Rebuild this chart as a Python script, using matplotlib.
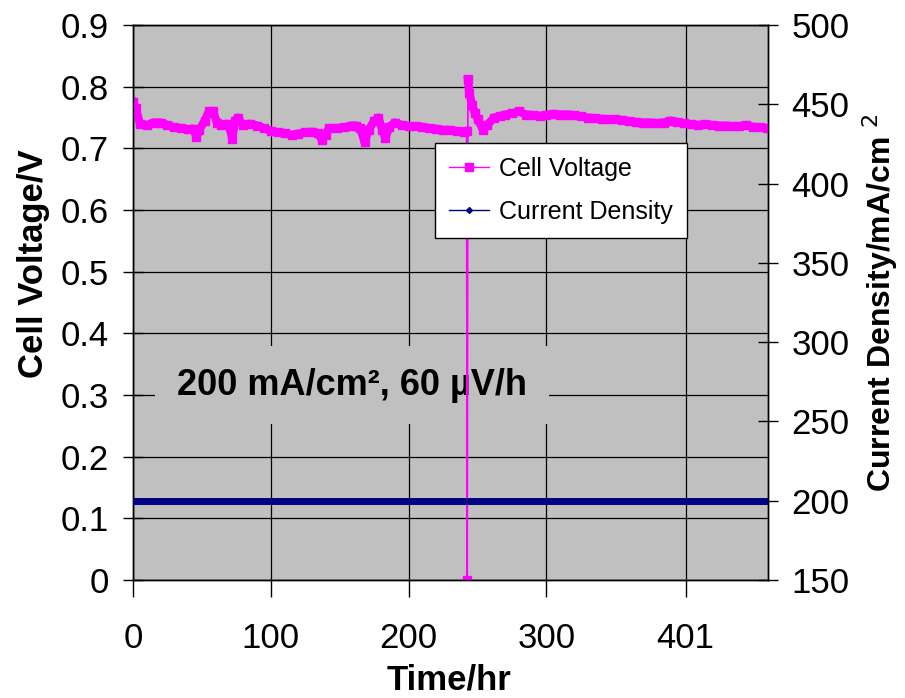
import matplotlib
matplotlib.use("Agg")
from matplotlib import pyplot as plt
from matplotlib.lines import Line2D

# cell voltage (time in hr, volts)
time_hr = [0, 2, 5, 10, 15, 20, 25, 30, 35, 40, 44, 46, 48, 52, 55, 58, 61, 64,
           68, 70, 72, 74, 76, 80, 85, 90, 95, 100, 105, 110, 115, 120, 125, 130,
           134, 137, 140, 142, 148, 153, 158, 162, 165, 168, 171, 175, 178, 181,
           183, 186, 190, 195, 200, 205, 210, 215, 220, 225, 230, 235, 240, 242,
           242.5, 243, 244, 246, 248, 250, 254, 257, 262, 266, 270, 275, 280, 285,
           290, 295, 300, 305, 310, 315, 320, 325, 330, 335, 340, 345, 350, 355,
           360, 365, 370, 375, 380, 385, 390, 395, 400, 405, 410, 415, 420, 425,
           430, 435, 440, 445, 450, 455, 460]
cell_voltage = [0.775, 0.765, 0.740, 0.738, 0.742, 0.742, 0.738, 0.734, 0.733,
                0.731, 0.732, 0.718, 0.730, 0.745, 0.760, 0.760, 0.742, 0.738,
                0.740, 0.735, 0.716, 0.745, 0.750, 0.738, 0.740, 0.737, 0.733,
                0.728, 0.726, 0.725, 0.722, 0.724, 0.726, 0.727, 0.725, 0.714,
                0.722, 0.733, 0.733, 0.734, 0.737, 0.737, 0.733, 0.710, 0.730,
                0.745, 0.750, 0.730, 0.717, 0.735, 0.742, 0.738, 0.736, 0.736,
                0.735, 0.733, 0.732, 0.730, 0.730, 0.728, 0.727, 0.728,
                0.0, 0.812, 0.790, 0.770, 0.758, 0.748, 0.730, 0.738, 0.750,
                0.752, 0.755, 0.757, 0.760, 0.755, 0.754, 0.753, 0.754, 0.756,
                0.755, 0.755, 0.754, 0.752, 0.750, 0.749, 0.748, 0.747, 0.747,
                0.746, 0.744, 0.743, 0.742, 0.742, 0.741, 0.742, 0.745, 0.743,
                0.741, 0.739, 0.738, 0.739, 0.738, 0.737, 0.737, 0.736, 0.736,
                0.738, 0.735, 0.734, 0.733]
drop = 62  # index of the 0 V point (interruption)

# current density held at 200 mA/cm2
cd_time = [0, 50, 100, 150, 200, 250, 300, 350, 400, 461]
current_density = [200, 200, 200, 200, 200, 200, 200, 200, 200, 200]

x_ticks = [0, 100, 200, 300, 401]
x_labels = ["0", "100", "200", "300", "401"]

font = ["Liberation Sans", "DejaVu Sans"]
mag = "#ff00ff"
navy = "#000080"

fig = plt.figure(figsize=(9.05, 6.98), dpi=100)
ax = fig.add_axes([0.147, 0.169, 0.702, 0.795])
ax.set_facecolor("#c0c0c0")

ax.plot(time_hr[:drop], cell_voltage[:drop], color=mag, lw=6, marker="s",
        ms=6, solid_joinstyle="round", zorder=3)
ax.plot(time_hr[drop - 1:drop + 2], cell_voltage[drop - 1:drop + 2], color=mag,
        lw=1.2, zorder=3)
ax.plot(time_hr[drop:drop + 1], cell_voltage[drop:drop + 1], color=mag,
        ls="none", marker="s", ms=6, zorder=3)
ax.plot(time_hr[drop + 1:], cell_voltage[drop + 1:], color=mag, lw=6,
        marker="s", ms=6, solid_joinstyle="round", zorder=3)

ax.set_xlim(0, 461)
ax.set_ylim(0, 0.9)
ax.set_xticks(x_ticks)
ax.set_xticklabels(x_labels)
ax.set_yticks([0, 0.1, 0.2, 0.3, 0.4, 0.5, 0.6, 0.7, 0.8, 0.9])
ax.set_yticklabels(["0", "0.1", "0.2", "0.3", "0.4", "0.5", "0.6", "0.7", "0.8", "0.9"])
ax.grid(True, color="black", lw=0.9)
ax.set_axisbelow(True)

ax.tick_params(axis="y", direction="inout", length=15, width=1, pad=10)
ax.tick_params(axis="x", direction="out", length=12, width=1, pad=18)
for lab in ax.get_xticklabels() + ax.get_yticklabels():
    lab.set_family(font)
    lab.set_fontsize(25)

ax.set_ylabel("Cell Voltage/V", family=font, fontsize=25, fontweight="bold")
ax.yaxis.set_label_coords(-0.13, 0.57)
ax.set_xlabel("Time/hr", family=font, fontsize=25, fontweight="bold")
ax.xaxis.set_label_coords(0.498, -0.15)

ax.text(159, 0.316, "200 mA/cm\u00b2, 60 \u00b5V/h", family=font, fontsize=26,
        fontweight="bold", ha="center", va="center", zorder=2,
        bbox=dict(boxstyle="square,pad=0.6", fc="#c0c0c0", ec="none"))

ax2 = ax.twinx()
ax2.plot(cd_time, current_density, color=navy, lw=5, zorder=3)
ax2.set_ylim(150, 500)
ax2.set_yticks([150, 200, 250, 300, 350, 400, 450, 500])
ax2.tick_params(axis="y", direction="inout", length=15, width=1, pad=9)
for lab in ax2.get_yticklabels():
    lab.set_family(font)
    lab.set_fontsize(25)
ax2.set_ylabel("Current Density/mA/cm $^{2}$", family=font, fontsize=23,
               fontweight="bold")
ax2.yaxis.set_label_coords(1.145, 0.5)

for a in (ax, ax2):
    for s in a.spines.values():
        s.set_color("black")
        s.set_linewidth(1)

handles = [
    Line2D([], [], color=mag, lw=1, marker="s", ms=6),
    Line2D([], [], color=navy, lw=1, marker="D", ms=3),
]
leg = ax2.legend(handles, ["Cell Voltage", "Current Density"],
                 loc="upper left", bbox_to_anchor=(0.476, 0.787),
                 borderaxespad=0, prop={"family": font, "size": 18},
                 fancybox=False, framealpha=1, edgecolor="black",
                 handlelength=1.6, borderpad=0.55, labelspacing=0.75,
                 handletextpad=0.4)
leg.get_frame().set_linewidth(1)

fig.savefig("out.png", dpi=100)
